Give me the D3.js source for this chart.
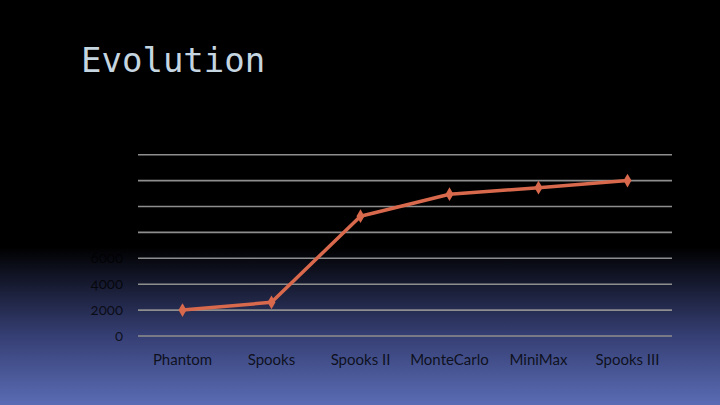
<!DOCTYPE html>
<html><head><meta charset="utf-8">
<script src="https://cdn.jsdelivr.net/npm/d3@7"></script>
<style>html,body{margin:0;padding:0;background:#000;overflow:hidden}</style>
</head><body>
<svg id="c" width="720" height="405"></svg>
<script>
const categories = ["Phantom","Spooks","Spooks II","MonteCarlo","MiniMax","Spooks III"];
const values = [2000, 2600, 9250, 10950, 11450, 12000];
const yTicks = [0,2000,4000,6000,8000,10000,12000,14000];
const title = "Evolution";

const svg = d3.select("#c");
const defs = svg.append("defs");
const g = defs.append("linearGradient").attr("id","bg").attr("x1",0).attr("y1",0).attr("x2",0).attr("y2",1);
g.append("stop").attr("offset","0").attr("stop-color","#000");
g.append("stop").attr("offset","0.61").attr("stop-color","#000");
g.append("stop").attr("offset","0.83").attr("stop-color","#363f74");
g.append("stop").attr("offset","1").attr("stop-color","#5a6cb4");
svg.append("rect").attr("width",720).attr("height",405).attr("fill","url(#bg)");

svg.append("text").attr("x",81).attr("y",72).text(title)
  .attr("font-family","DejaVu Sans Mono").attr("font-size",34).attr("fill","#c6d6e0");

const x = d3.scaleBand().domain(categories).range([138,672]);
const y = d3.scaleLinear().domain([0,14000]).range([336,154.7]);

svg.append("g").selectAll("line").data(yTicks).join("line")
  .attr("x1",138).attr("x2",672).attr("y1",d=>y(d)).attr("y2",d=>y(d))
  .attr("stroke","#8e8e8e").attr("stroke-width",1.6);

svg.append("g").selectAll("text").data(yTicks).join("text")
  .attr("x",123).attr("y",d=>y(d)+5).attr("text-anchor","end")
  .attr("font-family","Lato").attr("font-size",15)
  .style("font-variant-numeric","oldstyle-nums")
  .attr("fill","#000").attr("fill-opacity",0.72).text(d=>d);

svg.append("g").selectAll("text").data(categories).join("text")
  .attr("x",d=>x(d)+x.bandwidth()/2).attr("y",365).attr("text-anchor","middle")
  .attr("font-family","Lato").attr("font-size",15)
  .attr("fill","#000").attr("fill-opacity",0.8).text(d=>d);

const pts = categories.map((c,i)=>[x(c)+x.bandwidth()/2, y(values[i])]);
svg.append("path").attr("d",d3.line()(pts)).attr("fill","none")
  .attr("stroke","#d9694c").attr("stroke-width",3.5).attr("stroke-linejoin","round");
svg.append("g").selectAll("path").data(pts).join("path")
  .attr("transform",d=>`translate(${d[0]},${d[1]})`)
  .attr("d",d3.symbol(d3.symbolDiamond,55)())
  .attr("fill","#d9694c");
</script>
</body></html>
